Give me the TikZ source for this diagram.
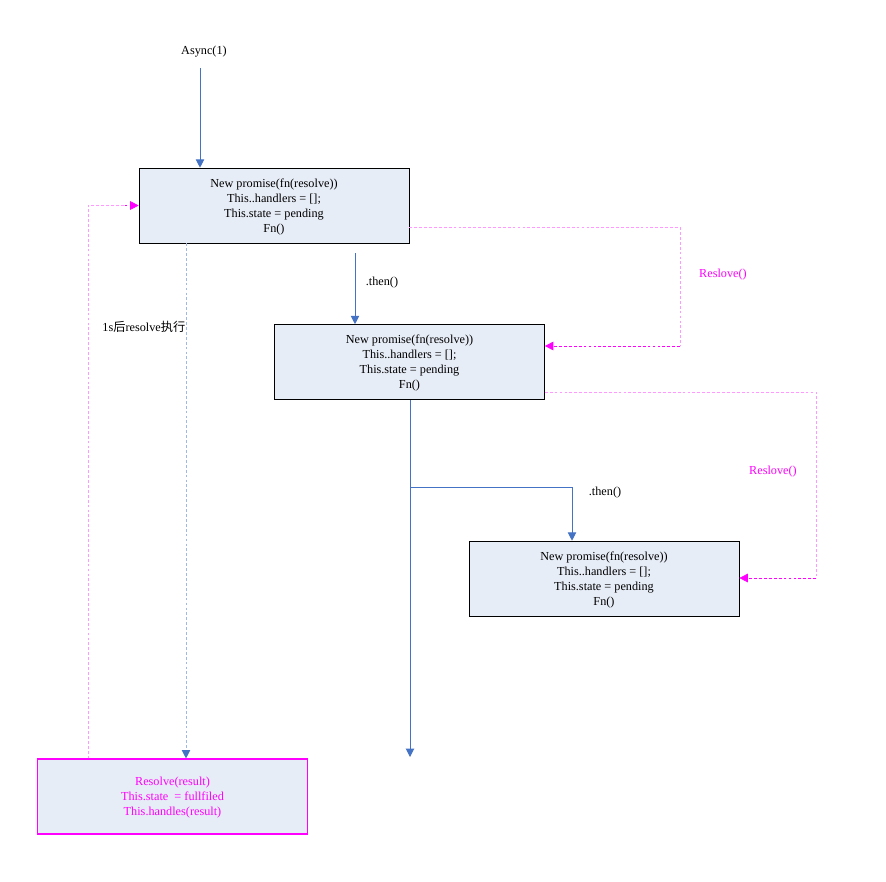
\documentclass[tikz,border=0pt]{standalone}
\usepackage{fontspec}
\setmainfont{Liberation Serif}
\newfontfamily\cjk{Noto Sans CJK SC}
\usepackage{xcolor}
\usetikzlibrary{arrows.meta}
\definecolor{flowblue}{HTML}{4472C4}
\definecolor{boxfill}{HTML}{E7EDF7}
\definecolor{lightblue}{HTML}{9DB8E2}
\definecolor{lightpink}{HTML}{FF99FF}
\definecolor{pinkcall}{HTML}{FF00FF}

\begin{document}
\begin{tikzpicture}[x=0.025cm,y=-0.025cm,>={Triangle[width=6pt,length=6pt]},
    promise node/.style={draw,thin,fill=boxfill,minimum width=6.75cm,minimum height=1.875cm,align=center,font=\fontsize{8.7}{10.6}\selectfont,inner sep=0pt,text depth=-3pt},
    label node/.style={font=\fontsize{8.7}{10.6}\selectfont,inner sep=1pt},
    flow/.style={->,flowblue,line width=0.7pt},
    call/.style={->,pinkcall,dashed,thin,dash pattern=on 2pt off 1.5pt},
    later/.style={->,lightblue,dashed,thin,dash pattern=on 2pt off 1.5pt}]
    \useasboundingbox (0,0) rectangle (886,881);

    \node[label node] (async) at (204,52) {Async(1)};
    \node[promise node] (p1) at (274,205.5) {New promise(fn(resolve))\\This..handlers = [];\\This.state = pending\\Fn()};
    \node[promise node] (p2) at (409.5,362) {New promise(fn(resolve))\\This..handlers = [];\\This.state = pending\\Fn()};
    \node[promise node] (p3) at (604,578.5) {New promise(fn(resolve))\\This..handlers = [];\\This.state = pending\\Fn()};
    \node[promise node,draw=pinkcall,line width=0.8pt,text=pinkcall] (res) at (172.5,796.5) {Resolve(result)\\This.state~ = fullfiled\\This.handles(result)};

    \node[label node] (then1) at (382,283) {.then()};
    \node[label node] (then2) at (605,493) {.then()};
    \node[label node,text=pinkcall] (rs1) at (723,275) {Reslove()};
    \node[label node,text=pinkcall] (rs2) at (773,472) {Reslove()};
    \node[label node,anchor=east] (wait) at (187,327) {1s{\cjk 后}resolve{\cjk 执行}};

    \coordinate (a0) at (200,68);
    \coordinate (t1) at (355,253);
    \coordinate (br) at (410,487);
    \coordinate (t2) at (572,487);
    \coordinate (end) at (410,757);
    \coordinate (r1) at (680,227);
    \coordinate (r1b) at (680,346);
    \coordinate (r2) at (816,392);
    \coordinate (r2b) at (816,578);
    \coordinate (sx) at (186,0);
    \coordinate (bx) at (88,0);

    % main flow
    \draw[flow] (a0) -- (a0 |- p1.north);
    \draw[flow] (t1) -- (t1 |- p2.north);
    \draw[flow] (p2.south -| end) -- (end);
    \draw[flow] (br) -- (t2) -- (t2 |- p3.north);

    % resolve calls
    \draw[call,lightpink,-] (p1.east |- r1) -- (r1) -- (r1b);
    \draw[call] (r1b) -- (p2.east |- r1b);
    \draw[call,lightpink,-] (p2.east |- r2) -- (r2) -- (r2b);
    \draw[call] (r2b) -- (p3.east |- r2b);
    \draw[later,-] (p1.south -| sx) -- ([yshift=6pt]res.north -| sx);
    \draw[flow] ([yshift=6pt]res.north -| sx) -- (res.north -| sx);
    \draw[call,lightpink,-] (res.north -| bx) |- ([xshift=-10pt]p1.west);
    \draw[call] ([xshift=-10pt]p1.west) -- (p1.west);
\end{tikzpicture}
\end{document}
